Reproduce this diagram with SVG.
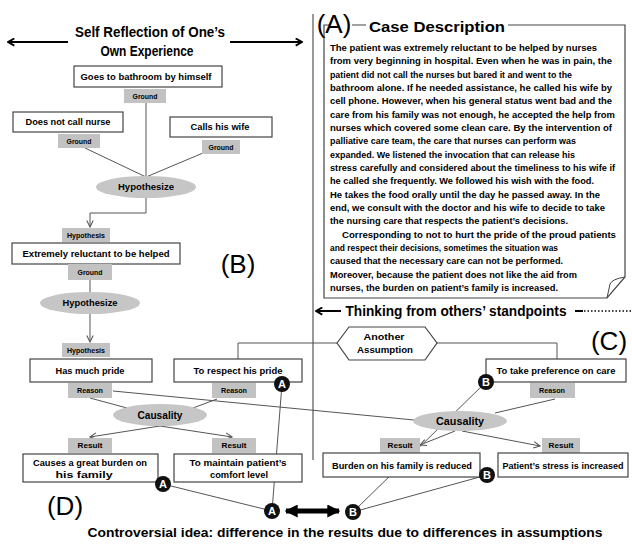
<svg xmlns="http://www.w3.org/2000/svg" width="632" height="544" viewBox="0 0 632 544">
<style>
text{font-family:"Liberation Sans",Arial,sans-serif;font-weight:bold;fill:#000}
.box{fill:#fff;stroke:#444;stroke-width:1.2}
.lab{fill:#c2c2c2}
.ell{fill:#c6c6c6}
.t9{font-size:9px;text-anchor:middle}
.t7{font-size:7px;text-anchor:middle}
.t10{font-size:10.5px;text-anchor:middle}
.cd{font-size:9.8px}
.big{font-size:26px;font-weight:normal}
.con{fill:none;stroke:#555;stroke-width:1}
.cir{fill:#111}
.ct{font-size:11px;fill:#fff;text-anchor:middle}
</style>
<defs>
<marker id="v" viewBox="0 0 10 10" refX="9" refY="5" markerWidth="8" markerHeight="8" orient="auto" markerUnits="userSpaceOnUse"><path d="M1,1 L9,5 L1,9" fill="none" stroke="#555" stroke-width="1.3"/></marker>
<marker id="blk" viewBox="0 0 10 10" refX="9" refY="5" markerWidth="9" markerHeight="9" orient="auto" markerUnits="userSpaceOnUse"><path d="M2,1 L9,5 L2,9" fill="none" stroke="#000" stroke-width="2"/></marker>
<marker id="fat" viewBox="0 0 10 10" refX="9" refY="5" markerWidth="13" markerHeight="13" orient="auto-start-reverse" markerUnits="userSpaceOnUse"><path d="M0,0 L10,5 L0,10 Z" fill="#000"/></marker>
</defs>
<rect width="632" height="544" fill="#fff"/>

<!-- divider -->
<line x1="313" y1="14" x2="313" y2="460" stroke="#777" stroke-width="1.5"/>

<!-- section headers -->
<g id="header-self">
<text x="150" y="37" font-size="14" text-anchor="middle" textLength="150" lengthAdjust="spacingAndGlyphs">Self Reflection of One’s</text>
<text x="147" y="56" font-size="14" text-anchor="middle" textLength="93" lengthAdjust="spacingAndGlyphs">Own Experience</text>
<line x1="68" y1="42" x2="8" y2="42" stroke="#000" stroke-width="2" marker-end="url(#blk)"/>
<line x1="230" y1="42" x2="302" y2="42" stroke="#000" stroke-width="2" marker-end="url(#blk)"/>
</g>

<!-- case description -->
<g id="case-description">
<path d="M352,25 H366 M508,25 H625 V277 L607,298 H324 V25 H330" fill="none" stroke="#444" stroke-width="1.2"/>
<path d="M625,277 Q612,279 610,284 L607,298" fill="none" stroke="#444" stroke-width="1"/>
<text class="big" x="334" y="33" text-anchor="middle">(A)</text>
<text x="437" y="32" font-size="14.5" text-anchor="middle" textLength="136" lengthAdjust="spacingAndGlyphs" font-weight="bold">Case Description</text>
<g class="cd" transform="translate(330,0) scale(0.76,1)">
<text x="0" y="51" textLength="351.3" lengthAdjust="spacingAndGlyphs">The patient was extremely reluctant to be helped by nurses</text>
<text x="0" y="64.3" textLength="371.1" lengthAdjust="spacingAndGlyphs">from very beginning in hospital. Even when he was in pain, the</text>
<text x="0" y="77.7" textLength="318.4" lengthAdjust="spacingAndGlyphs">patient did not call the nurses but bared  it and went to the</text>
<text x="0" y="91" textLength="371.1" lengthAdjust="spacingAndGlyphs">bathroom alone. If  he needed assistance, he called his wife by</text>
<text x="0" y="104.3" textLength="371.1" lengthAdjust="spacingAndGlyphs">cell phone. However, when his general status went bad and the</text>
<text x="0" y="117.7" textLength="375" lengthAdjust="spacingAndGlyphs">care from his family was not enough, he accepted the  help from</text>
<text x="0" y="131" textLength="371.1" lengthAdjust="spacingAndGlyphs">nurses which covered some clean care.  By  the intervention of</text>
<text x="0" y="144.3" textLength="323.7" lengthAdjust="spacingAndGlyphs">palliative care team, the care that nurses can perform was</text>
<text x="0" y="157.7" textLength="322.4" lengthAdjust="spacingAndGlyphs">expanded. We listened the invocation that can release his</text>
<text x="0" y="171" textLength="375" lengthAdjust="spacingAndGlyphs">stress carefully and  considered about the timeliness to his wife if</text>
<text x="0" y="184.3" textLength="347.4" lengthAdjust="spacingAndGlyphs">he called she frequently. We followed his wish with the food.</text>
<text x="0" y="197.7" textLength="355.3" lengthAdjust="spacingAndGlyphs">He takes the food orally until the day he passed away.  In the</text>
<text x="0" y="211" textLength="361.8" lengthAdjust="spacingAndGlyphs">end, we consult with the doctor and  his wife to decide to take</text>
<text x="0" y="224.3" textLength="313.2" lengthAdjust="spacingAndGlyphs">the nursing care that respects the patient’s decisions.</text>
<text x="15.8" y="237.7" textLength="360.5" lengthAdjust="spacingAndGlyphs">Corresponding to not to hurt the  pride of the proud patients</text>
<text x="0" y="251" textLength="300" lengthAdjust="spacingAndGlyphs">and respect their decisions, sometimes the situation was</text>
<text x="0" y="264.3" textLength="306.6" lengthAdjust="spacingAndGlyphs">caused that the necessary care can not be performed.</text>
<text x="0" y="277.7" textLength="325" lengthAdjust="spacingAndGlyphs">Moreover, because the patient does not like the aid from</text>
<text x="0" y="291" textLength="300" lengthAdjust="spacingAndGlyphs">nurses, the burden on patient’s family is increased.</text>
</g>
</g>

<g id="header-others">
<text x="456" y="316" font-size="15.5" text-anchor="middle" textLength="221" lengthAdjust="spacingAndGlyphs">Thinking from others’ standpoints</text>
<line x1="341" y1="311" x2="316" y2="311" stroke="#000" stroke-width="2" marker-end="url(#blk)"/>
<line x1="575" y1="311" x2="583" y2="311" stroke="#000" stroke-width="2"/>
<line x1="584" y1="311" x2="632" y2="311" stroke="#000" stroke-width="1.5" stroke-dasharray="1.5,2"/>
</g>

<g id="labels">
<text class="big" x="238" y="273" text-anchor="middle">(B)</text>
<text class="big" x="609" y="350" text-anchor="middle">(C)</text>
<text class="big" x="65" y="515" text-anchor="middle">(D)</text>
<text x="345" y="537" font-size="13" text-anchor="middle" textLength="515" lengthAdjust="spacingAndGlyphs">Controversial idea: difference in the results due to differences in assumptions</text>
</g>

<!-- connectors -->
<g id="connectors">
<path class="con" d="M146,103 V177"/>
<path class="con" d="M85,148 L146,177"/>
<path class="con" d="M203,153 L146,177"/>
<path class="con" d="M146,198 V213 H90 V227" marker-end="url(#v)"/>
<path class="con" d="M90,280 V292"/>
<path class="con" d="M90,314 V342" marker-end="url(#v)"/>
<path class="con" d="M90,398 L127,408"/>
<path class="con" d="M217,399 L193,408"/>
<path class="con" d="M160,426 L90,437" marker-end="url(#v)"/>
<path class="con" d="M160,426 L232,437" marker-end="url(#v)"/>
<path class="con" d="M113,391 L414,420"/>
<path class="con" d="M238,359 V343 H337"/>
<path class="con" d="M437,343 H557 V359"/>
<path class="con" d="M555,399 L495,413"/>
<path class="con" d="M455,431 L420,445" marker-end="url(#v)"/>
<path class="con" d="M462,431 L540,446" marker-end="url(#v)"/>
<path class="con" d="M163,484 L272,511 L282,384"/>
<path class="con" d="M486,382 L353,512 L487,475"/>
<line x1="286" y1="511" x2="339" y2="511" stroke="#000" stroke-width="5" marker-start="url(#fat)" marker-end="url(#fat)"/>
</g>

<!-- left column nodes -->
<g id="n-goes"><rect class="box" x="74" y="66" width="148" height="21"/><text class="t9" x="146" y="80" textLength="131" lengthAdjust="spacingAndGlyphs">Goes to bathroom by himself</text></g>
<g id="g-ground1"><rect class="lab" x="124" y="89" width="42" height="14"/><text class="t7" x="145" y="99" textLength="25" lengthAdjust="spacingAndGlyphs">Ground</text></g>
<g id="n-nocall"><rect class="box" x="13" y="112" width="110" height="20"/><text class="t9" x="68" y="125" textLength="85" lengthAdjust="spacingAndGlyphs">Does not call nurse</text></g>
<g id="g-ground2"><rect class="lab" x="58" y="134" width="42" height="14"/><text class="t7" x="79" y="144" textLength="25" lengthAdjust="spacingAndGlyphs">Ground</text></g>
<g id="n-calls"><rect class="box" x="170" y="117" width="102" height="20"/><text class="t9" x="220" y="130" textLength="59" lengthAdjust="spacingAndGlyphs">Calls his wife</text></g>
<g id="g-ground3"><rect class="lab" x="202" y="140" width="38" height="14"/><text class="t7" x="221" y="150" textLength="25" lengthAdjust="spacingAndGlyphs">Ground</text></g>
<g id="hyp1"><ellipse class="ell" cx="146" cy="187" rx="50" ry="11"/><text class="t9" x="146" y="190" textLength="56" lengthAdjust="spacingAndGlyphs">Hypothesize</text></g>
<g id="g-hypothesis1"><rect class="lab" x="62" y="228" width="48" height="14"/><text class="t7" x="86" y="238" textLength="38" lengthAdjust="spacingAndGlyphs">Hypothesis</text></g>
<g id="n-extreme"><rect class="box" x="12" y="243" width="168" height="21"/><text class="t9" x="96" y="257" textLength="147" lengthAdjust="spacingAndGlyphs">Extremely reluctant to be helped</text></g>
<g id="g-ground4"><rect class="lab" x="68" y="264" width="44" height="16"/><text class="t7" x="90" y="275" textLength="25" lengthAdjust="spacingAndGlyphs">Ground</text></g>
<g id="hyp2"><ellipse class="ell" cx="90" cy="303" rx="50" ry="11"/><text class="t9" x="90" y="306" textLength="55" lengthAdjust="spacingAndGlyphs">Hypothesize</text></g>
<g id="g-hypothesis2"><rect class="lab" x="62" y="343" width="48" height="14"/><text class="t7" x="86" y="353" textLength="38" lengthAdjust="spacingAndGlyphs">Hypothesis</text></g>
<g id="n-pride"><rect class="box" x="30" y="359" width="122" height="23"/><text class="t9" x="90" y="374" textLength="69" lengthAdjust="spacingAndGlyphs">Has much pride</text></g>
<g id="g-reason1"><rect class="lab" x="68" y="383" width="44" height="15"/><text class="t7" x="90" y="393" textLength="26" lengthAdjust="spacingAndGlyphs">Reason</text></g>
<g id="n-respect"><rect class="box" x="174" y="359" width="128" height="23"/><text class="t9" x="238" y="374" textLength="89" lengthAdjust="spacingAndGlyphs">To respect his pride</text></g>
<g id="g-reason2"><rect class="lab" x="212" y="383" width="44" height="15"/><text class="t7" x="234" y="393" textLength="26" lengthAdjust="spacingAndGlyphs">Reason</text></g>
<g id="caus1"><ellipse class="ell" cx="160" cy="415" rx="47" ry="11"/><text class="t10" x="160" y="419" textLength="45" lengthAdjust="spacingAndGlyphs">Causality</text></g>
<g id="g-result1"><rect class="lab" x="68" y="438" width="44" height="15"/><text class="t7" x="90" y="448" textLength="25" lengthAdjust="spacingAndGlyphs">Result</text></g>
<g id="g-result2"><rect class="lab" x="212" y="438" width="44" height="15"/><text class="t7" x="234" y="448" textLength="25" lengthAdjust="spacingAndGlyphs">Result</text></g>
<g id="n-causes"><rect class="box" x="23" y="454" width="135" height="28"/><text class="t9" x="90" y="466" textLength="114" lengthAdjust="spacingAndGlyphs">Causes a great burden on</text><text class="t9" x="84" y="478" textLength="57" lengthAdjust="spacingAndGlyphs">his family</text></g>
<g id="n-maintain"><rect class="box" x="174" y="454" width="128" height="28"/><text class="t9" x="238" y="466" textLength="97" lengthAdjust="spacingAndGlyphs">To maintain patient’s</text><text class="t9" x="239" y="478" textLength="58" lengthAdjust="spacingAndGlyphs">comfort level</text></g>

<!-- right column nodes -->
<g id="n-another"><polygon class="box" points="337,343 349,327 425,327 437,343 425,360 349,360"/><text class="t9" x="384" y="340" textLength="41" lengthAdjust="spacingAndGlyphs">Another</text><text class="t9" x="385" y="353" textLength="56" lengthAdjust="spacingAndGlyphs">Assumption</text></g>
<g id="n-takepref"><rect class="box" x="486" y="359" width="140" height="23"/><text class="t9" x="556" y="374" textLength="119" lengthAdjust="spacingAndGlyphs">To take preference on care</text></g>
<g id="g-reason3"><rect class="lab" x="530" y="383" width="45" height="15"/><text class="t7" x="552" y="393" textLength="26" lengthAdjust="spacingAndGlyphs">Reason</text></g>
<g id="caus2"><ellipse class="ell" cx="460" cy="421" rx="47" ry="10"/><text class="t10" x="460" y="425" textLength="48" lengthAdjust="spacingAndGlyphs">Causality</text></g>
<g id="g-result3"><rect class="lab" x="380" y="438" width="40" height="15"/><text class="t7" x="400" y="448" textLength="25" lengthAdjust="spacingAndGlyphs">Result</text></g>
<g id="g-result4"><rect class="lab" x="542" y="438" width="38" height="15"/><text class="t7" x="561" y="448" textLength="25" lengthAdjust="spacingAndGlyphs">Result</text></g>
<g id="n-burden"><rect class="box" x="323" y="453" width="157" height="24"/><text class="t9" x="402" y="469" textLength="140" lengthAdjust="spacingAndGlyphs">Burden on his family is reduced</text></g>
<g id="n-stress"><rect class="box" x="498" y="453" width="130" height="24"/><text class="t9" x="563" y="469" textLength="121" lengthAdjust="spacingAndGlyphs">Patient’s stress is increased</text></g>

<!-- markers A / B -->
<g id="mA1"><circle class="cir" cx="282" cy="384" r="8"/><text class="ct" x="282" y="388">A</text></g>
<g id="mA2"><circle class="cir" cx="163" cy="484" r="8"/><text class="ct" x="163" y="488">A</text></g>
<g id="mA3"><circle class="cir" cx="272" cy="511" r="8"/><text class="ct" x="272" y="515">A</text></g>
<g id="mB1"><circle class="cir" cx="486" cy="382" r="8"/><text class="ct" x="486" y="386">B</text></g>
<g id="mB2"><circle class="cir" cx="487" cy="475" r="8"/><text class="ct" x="487" y="479">B</text></g>
<g id="mB3"><circle class="cir" cx="353" cy="512" r="8"/><text class="ct" x="353" y="516">B</text></g>
</svg>
